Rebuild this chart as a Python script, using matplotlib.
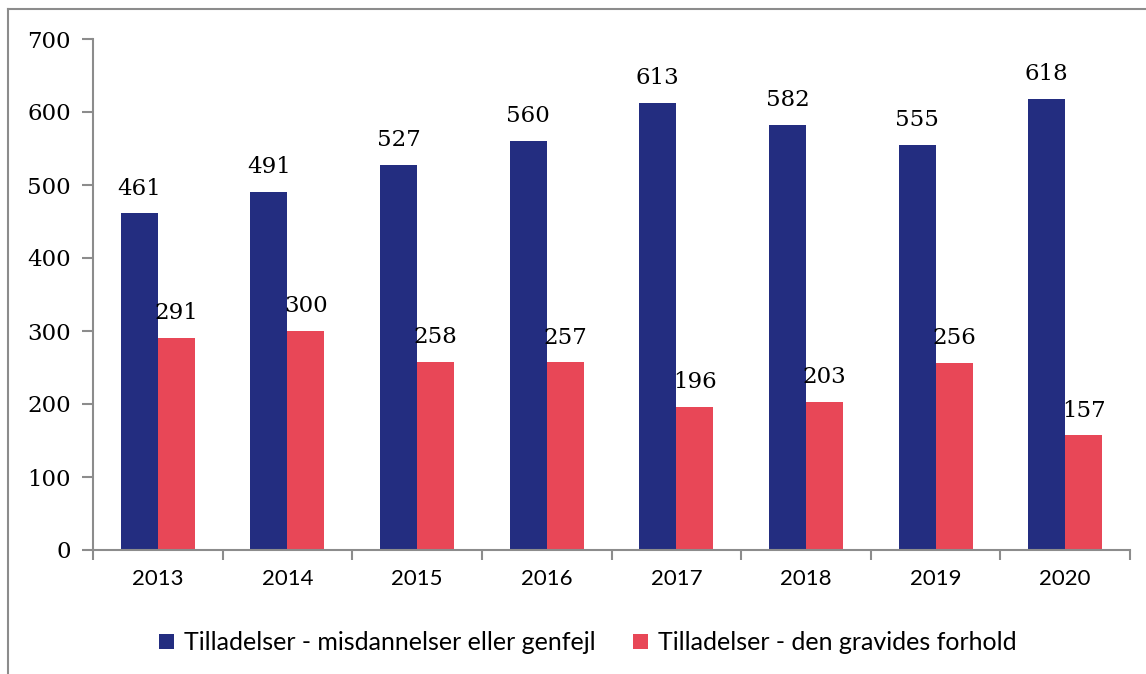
import matplotlib.pyplot as plt
import matplotlib.lines as mlines
import numpy as np

years = ["2013", "2014", "2015", "2016", "2017", "2018", "2019", "2020"]
misdannelser = [461, 491, 527, 560, 613, 582, 555, 618]
gravides = [291, 300, 258, 257, 196, 203, 256, 157]
labels = ["Tilladelser - misdannelser eller genfejl",
          "Tilladelser - den gravides forhold"]

blue = "#232D80"
red = "#E84757"
grey = "#8C8C8C"
serif = "DejaVu Serif"
sans = "Lato"

fig = plt.figure(figsize=(11.46, 6.74), dpi=100)
ax = fig.add_axes([93 / 1146, 1 - 550 / 674, (1130 - 93) / 1146, (550 - 39) / 674])

x = np.arange(len(years))
w = 0.285
b1 = ax.bar(x - w / 2, misdannelser, w, color=blue, label=labels[0])
b2 = ax.bar(x + w / 2, gravides, w, color=red, label=labels[1])

for bars, vals in ((b1, misdannelser), (b2, gravides)):
    for r, v in zip(bars, vals):
        ax.annotate(str(v), (r.get_x() + r.get_width() / 2, v),
                    xytext=(0, 10), textcoords="offset points",
                    ha="center", va="bottom", fontsize=16.5, family=serif)

ax.set_xlim(-0.5, len(years) - 0.5)
ax.set_ylim(0, 700)
ax.set_yticks(range(0, 701, 100))
ax.set_yticklabels([str(v) for v in range(0, 701, 100)], fontsize=16.5, family=serif)
ax.set_xticks(x)
ax.set_xticklabels(years, fontsize=16, family=sans)
ax.set_xticks(np.arange(len(years) + 1) - 0.5, minor=True)
ax.tick_params(axis="x", which="major", length=0, pad=14)
ax.tick_params(axis="x", which="minor", length=7, color=grey, width=1.5)
ax.tick_params(axis="y", length=8, color=grey, width=1.5, pad=8)

for s in ("top", "right"):
    ax.spines[s].set_visible(False)
for s in ("left", "bottom"):
    ax.spines[s].set_color(grey)
    ax.spines[s].set_linewidth(1.5)

ax.legend(loc="upper center", bbox_to_anchor=(0.477, -0.115), ncol=2, frameon=False,
          prop={"family": sans, "size": 18}, handlelength=0.6, handleheight=0.6,
          handletextpad=0.4, columnspacing=1.5)

# outer frame (only left and top edges visible in the original)
fig.add_artist(mlines.Line2D([8 / 1146, 8 / 1146], [0, 1 - 9 / 674],
                             transform=fig.transFigure, color=grey, lw=1.5))
fig.add_artist(mlines.Line2D([8 / 1146, 1], [1 - 9 / 674, 1 - 9 / 674],
                             transform=fig.transFigure, color=grey, lw=1.5))

fig.savefig("out.png", dpi=100)
